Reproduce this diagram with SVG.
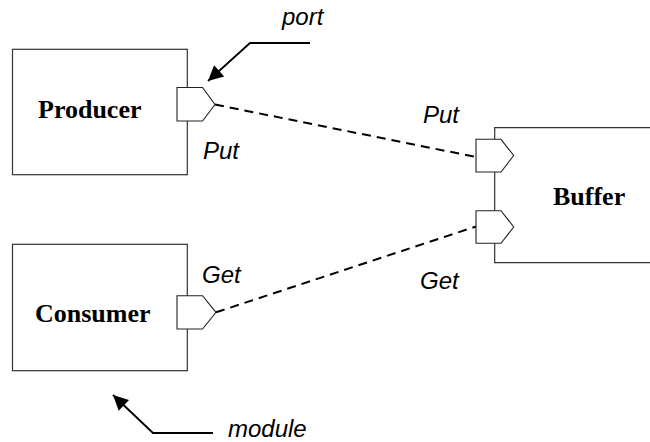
<svg xmlns="http://www.w3.org/2000/svg" width="650" height="442" viewBox="0 0 650 442">
<style>
.box{fill:#fff;stroke:#333;stroke-width:1.2}
.port{fill:#fff;stroke:#222;stroke-width:1.1;stroke-linejoin:miter}
.name{font-family:"Liberation Serif",serif;font-weight:bold;font-size:26px;fill:#000}
.lbl{font-family:"Liberation Sans",Arial,sans-serif;font-style:italic;font-size:24px;fill:#000}
.dash{fill:none;stroke:#000;stroke-width:2;stroke-dasharray:9 6}
.call{fill:none;stroke:#000;stroke-width:1.8;marker-end:url(#ah)}
</style>
<defs>
<marker id="ah" viewBox="0 0 10 10" refX="9" refY="5" markerWidth="10" markerHeight="10" markerUnits="userSpaceOnUse" orient="auto" overflow="visible">
<path d="M-6,-2.5 L9,5 L-6,12.5 Z" fill="#000"/>
</marker>
</defs>
<g id="connectors">
<line class="dash" x1="215" y1="104.5" x2="476" y2="157"/>
<line class="dash" x1="216" y1="312.3" x2="476" y2="226.5"/>
<polyline class="call" points="310,43 250,43 208,81"/>
<polyline class="call" points="213,433 153,433 113,395"/>
</g>
<g id="producer">
<rect class="box" x="12.5" y="49.3" width="174.8" height="125.4"/>
<text class="name" x="38" y="118">Producer</text>
<path class="port" d="M177,87.5 H202.5 L215,104.5 L202.5,121 H177 Z"/>
<text class="lbl" x="203" y="159">Put</text>
</g>
<g id="consumer">
<rect class="box" x="12.5" y="244.3" width="174.8" height="126.4"/>
<text class="name" x="35" y="322">Consumer</text>
<path class="port" d="M177,295.7 H202.5 L216,312.3 L202.5,329 H177 Z"/>
<text class="lbl" x="202" y="283">Get</text>
</g>
<g id="buffer">
<path class="box" d="M651,127.7 H494.7 V262.7 H651"/>
<text class="name" x="553" y="205">Buffer</text>
<path class="port" d="M476,139.3 H501 L513.7,155.5 L501,172 H476 Z"/>
<path class="port" d="M476,210.7 H501 L513.7,227 L501,243.3 H476 Z"/>
<text class="lbl" x="423" y="123">Put</text>
<text class="lbl" x="420" y="289">Get</text>
</g>
<g id="annotations">
<text class="lbl" x="282" y="25">port</text>
<text class="lbl" x="228" y="437">module</text>
</g>
</svg>
